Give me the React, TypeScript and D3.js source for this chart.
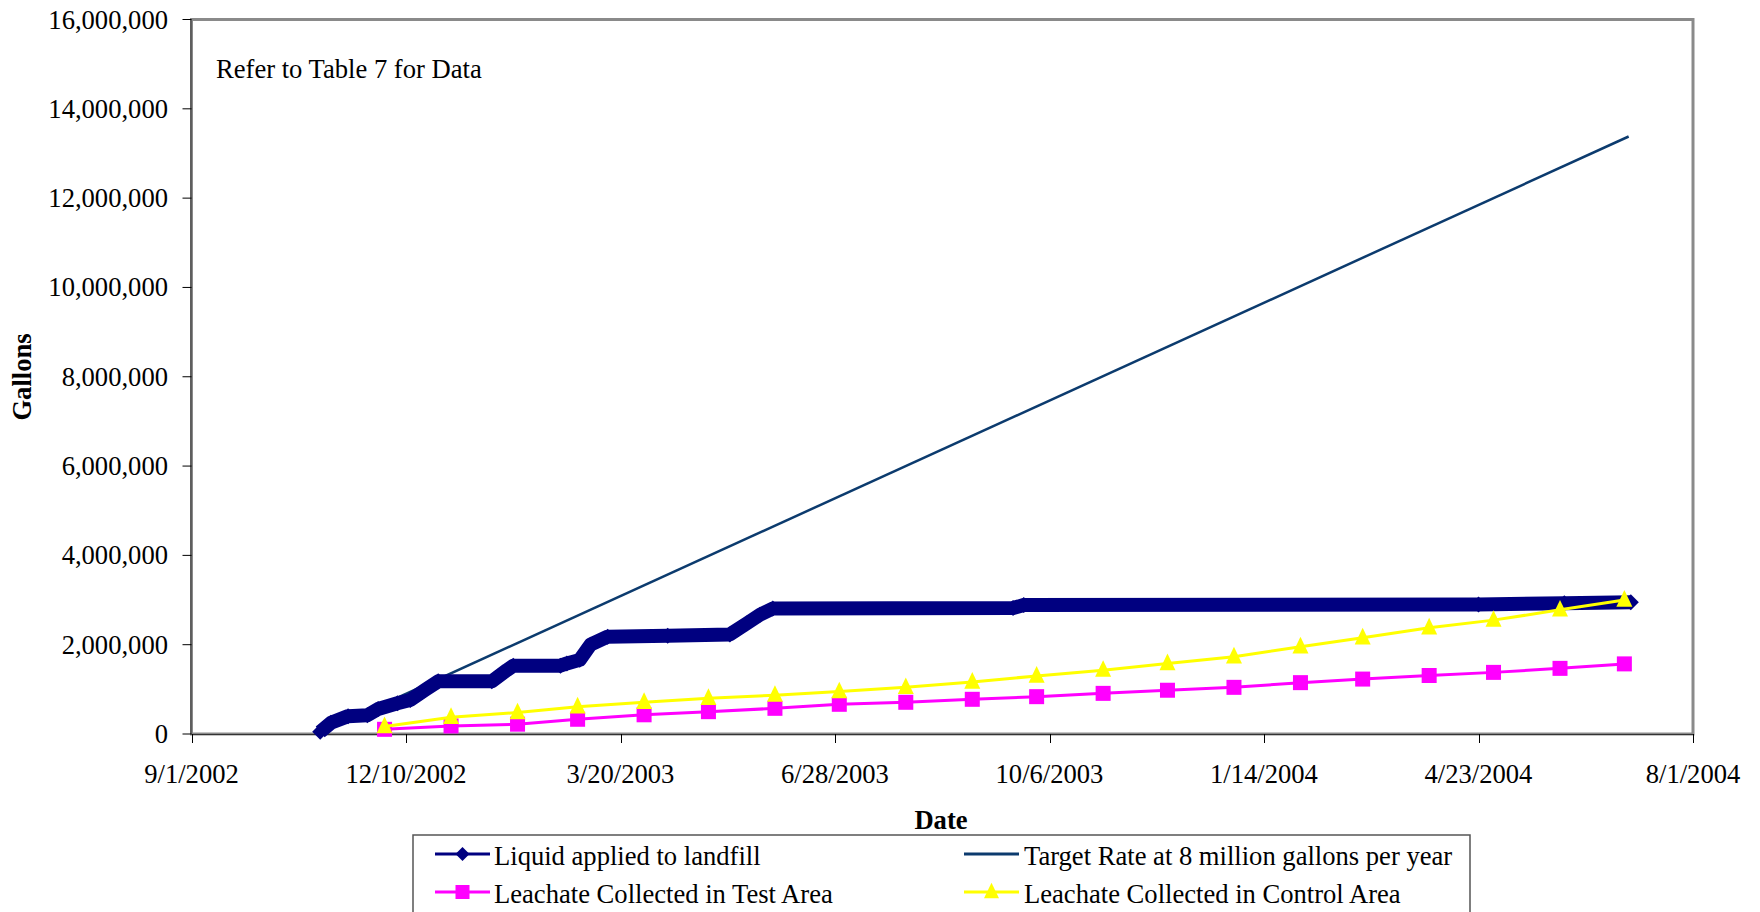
import React from "react";
import * as d3 from "d3";

// ---------- data ----------
const xTickDates = ["2002-09-01", "2002-12-10", "2003-03-20", "2003-06-28", "2003-10-06", "2004-01-14", "2004-04-23", "2004-08-01"];
const yTicks = [0, 2000000, 4000000, 6000000, 8000000, 10000000, 12000000, 14000000, 16000000];

const liquidDates = [
  "2002-10-31", "2002-11-05", "2002-11-13", "2002-11-22", "2002-11-27", "2002-12-06", "2002-12-12",
  "2002-12-19", "2002-12-25", "2003-01-19", "2003-01-26", "2003-01-29", "2003-02-20", "2003-02-23",
  "2003-03-01", "2003-03-06", "2003-03-14", "2003-04-11", "2003-05-10", "2003-05-18", "2003-05-24",
  "2003-05-30", "2003-09-19", "2003-09-24", "2004-04-23", "2004-06-02", "2004-07-03",
];
const liquidValues = [
  50000, 250000, 400000, 420000, 560000, 690000, 760000,
  990000, 1180000, 1180000, 1430000, 1530000, 1530000, 1580000,
  1660000, 2000000, 2180000, 2200000, 2230000, 2480000, 2670000,
  2810000, 2820000, 2890000, 2900000, 2930000, 2950000,
];

const targetDates = ["2002-10-30", "2004-07-02"];
const targetValues = [0, 13380000];

const leachateDates = [
  "2002-11-30", "2002-12-31", "2003-01-31", "2003-02-28", "2003-03-31", "2003-04-30", "2003-05-31",
  "2003-06-30", "2003-07-31", "2003-08-31", "2003-09-30", "2003-10-31", "2003-11-30", "2003-12-31",
  "2004-01-31", "2004-02-29", "2004-03-31", "2004-04-30", "2004-05-31", "2004-06-30",
];
const testValues = [
  105000, 180000, 220000, 330000, 430000, 500000, 575000,
  665000, 710000, 777000, 836000, 910000, 980000, 1045000,
  1150000, 1230000, 1310000, 1380000, 1470000, 1570000,
];
const controlValues = [
  170000, 375000, 480000, 610000, 710000, 800000, 870000,
  950000, 1045000, 1165000, 1300000, 1430000, 1580000, 1730000,
  1955000, 2157000, 2380000, 2550000, 2780000, 3000000,
];

const legendLabels = [
  "Liquid applied to landfill",
  "Target Rate at 8 million gallons per year",
  "Leachate Collected in Test Area",
  "Leachate Collected in Control Area",
];

// ---------- helpers ----------
const parse = (s: string) => {
  const [y, m, d] = s.split("-").map(Number);
  return new Date(y, m - 1, d, 12);
};
const fmtDate = (d: Date) => `${d.getMonth() + 1}/${d.getDate()}/${d.getFullYear()}`;

const W = 1760;
const H = 912;
const left = 191.5;
const right = 1693;
const top = 19.5;
const bottom = 734;

const FONT = "'Liberation Serif', 'Times New Roman', Times, serif";
const FS = 26.6;
const NAVY = "#000080";
const TARGET = "#0c3b6e";
const MAGENTA = "#ff00ff";
const YELLOW = "#ffff00";

export default function App() {
  const x = d3.scaleTime().domain([parse("2002-09-01"), parse("2004-08-01")]).range([left, right]);
  const y = d3.scaleLinear().domain([0, 16000000]).range([bottom, top]);
  const fmt = d3.format(",");

  const line = d3
    .line<[Date, number]>()
    .x((d) => x(d[0]))
    .y((d) => y(d[1]));

  const liquid: [Date, number][] = liquidDates.map((d, i) => [parse(d), liquidValues[i]]);
  const target: [Date, number][] = targetDates.map((d, i) => [parse(d), targetValues[i]]);
  const test: [Date, number][] = leachateDates.map((d, i) => [parse(d), testValues[i]]);
  const control: [Date, number][] = leachateDates.map((d, i) => [parse(d), controlValues[i]]);

  const diamond = (cx: number, cy: number, r: number) =>
    `M${cx},${cy - r}L${cx + r},${cy}L${cx},${cy + r}L${cx - r},${cy}Z`;
  const tri = (cx: number, cy: number, s: number) =>
    `M${cx},${cy - s * 0.62}L${cx + s / 2},${cy + s * 0.42}L${cx - s / 2},${cy + s * 0.42}Z`;

  const legendRows = [857, 895];
  const legendCols = [{ l: 435, r: 490, t: 494 }, { l: 964, r: 1019, t: 1024 }];

  return (
    <svg width={W} height={H} style={{ position: "absolute", left: 0, top: 0, background: "#fff" }} fontFamily={FONT}>
      <rect x={0} y={0} width={W} height={H} fill="#fff" />
      {/* plot area */}
      <rect x={left} y={top} width={right - left} height={bottom - top} fill="#fff" stroke="#8a8a8a" strokeWidth={3} />
      <line x1={left - 0.5} x2={left - 0.5} y1={top} y2={bottom} stroke="#333" strokeWidth={1} />
      <line x1={left} x2={right} y1={bottom + 0.5} y2={bottom + 0.5} stroke="#333" strokeWidth={1} />

      {/* y axis */}
      {yTicks.map((t) => (
        <g key={t}>
          <line x1={left - 9} x2={left} y1={y(t)} y2={y(t)} stroke="#000" strokeWidth={1} />
          <text x={168} y={y(t) + 9} fontSize={FS} textAnchor="end" fill="#000">
            {fmt(t)}
          </text>
        </g>
      ))}

      {/* x axis */}
      {xTickDates.map((s) => {
        const d = parse(s);
        const px = Math.round(x(d)) + 0.5;
        return (
          <g key={s}>
            <line x1={px} x2={px} y1={bottom} y2={bottom + 9} stroke="#000" strokeWidth={1} />
            <text x={x(d)} y={783} fontSize={FS} textAnchor="middle" fill="#000">
              {fmtDate(d)}
            </text>
          </g>
        );
      })}

      {/* axis titles */}
      <text x={941} y={829} fontSize={FS} fontWeight="bold" textAnchor="middle">
        Date
      </text>
      <text transform="translate(31,377) rotate(-90)" fontSize={FS} fontWeight="bold" textAnchor="middle">
        Gallons
      </text>
      <text x={216} y={78} fontSize={FS}>
        Refer to Table 7 for Data
      </text>

      {/* target line */}
      <path d={line(target) || ""} fill="none" stroke={TARGET} strokeWidth={2.5} />

      {/* liquid applied */}
      <path d={line(liquid) || ""} fill="none" stroke={NAVY} strokeWidth={14} strokeLinejoin="round" />
      {liquid.map((d, i) => (
        <path key={i} d={diamond(x(d[0]), y(d[1]), 8)} fill={NAVY} />
      ))}

      {/* test area */}
      <path d={line(test) || ""} fill="none" stroke={MAGENTA} strokeWidth={3} />
      {test.map((d, i) => (
        <rect key={i} x={x(d[0]) - 7.5} y={y(d[1]) - 7.5} width={15} height={15} fill={MAGENTA} />
      ))}

      {/* control area */}
      <path d={line(control) || ""} fill="none" stroke={YELLOW} strokeWidth={3} />
      {control.map((d, i) => (
        <path key={i} d={tri(x(d[0]), y(d[1]), 16)} fill={YELLOW} />
      ))}

      {/* legend */}
      <rect x={413} y={835} width={1057} height={100} fill="#fff" stroke="#555" strokeWidth={1.5} />
      <line x1={legendCols[0].l} x2={legendCols[0].r} y1={legendRows[0] - 3} y2={legendRows[0] - 3} stroke={NAVY} strokeWidth={3} />
      <path d={diamond((legendCols[0].l + legendCols[0].r) / 2, legendRows[0] - 3, 7)} fill={NAVY} />
      <text x={legendCols[0].t} y={legendRows[0] + 8} fontSize={FS}>
        {legendLabels[0]}
      </text>
      <line x1={legendCols[1].l} x2={legendCols[1].r} y1={legendRows[0] - 3} y2={legendRows[0] - 3} stroke={TARGET} strokeWidth={3} />
      <text x={legendCols[1].t} y={legendRows[0] + 8} fontSize={FS}>
        {legendLabels[1]}
      </text>
      <line x1={legendCols[0].l} x2={legendCols[0].r} y1={legendRows[1] - 3} y2={legendRows[1] - 3} stroke={MAGENTA} strokeWidth={3} />
      <rect x={(legendCols[0].l + legendCols[0].r) / 2 - 7} y={legendRows[1] - 10} width={14} height={14} fill={MAGENTA} />
      <text x={legendCols[0].t} y={legendRows[1] + 8} fontSize={FS}>
        {legendLabels[2]}
      </text>
      <line x1={legendCols[1].l} x2={legendCols[1].r} y1={legendRows[1] - 3} y2={legendRows[1] - 3} stroke={YELLOW} strokeWidth={3} />
      <path d={tri((legendCols[1].l + legendCols[1].r) / 2, legendRows[1] - 3, 15)} fill={YELLOW} />
      <text x={legendCols[1].t} y={legendRows[1] + 8} fontSize={FS}>
        {legendLabels[3]}
      </text>
    </svg>
  );
}
